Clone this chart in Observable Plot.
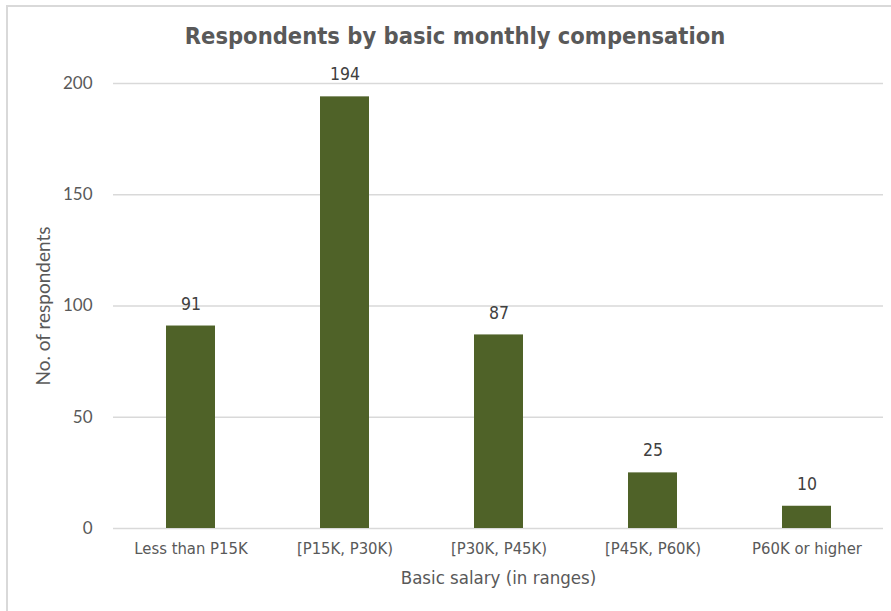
<!DOCTYPE html>
<html>
<head>
<meta charset="utf-8">
<script src="https://cdn.jsdelivr.net/npm/d3@7"></script>
<script src="https://cdn.jsdelivr.net/npm/@observablehq/plot@0.6"></script>
<style>
  html, body { margin: 0; padding: 0; background: #fff; }
  #wrap { position: relative; width: 891px; height: 611px; overflow: hidden; }
  #frame { position: absolute; left: 6px; top: 5px; width: 900px; height: 700px;
           border: 2px solid #d9d9d9; box-sizing: border-box; }
  #title { position: absolute; left: 0; top: 22px; width: 910px; text-align: center;
           font-family: "DejaVu Sans Condensed", "DejaVu Sans", sans-serif; font-weight: bold;
           font-size: 23.5px; color: #595959; line-height: 28px; }
  #chart { position: absolute; left: 0; top: 60px; }
</style>
</head>
<body>
<div id="wrap">
  <div id="frame"></div>
  <div id="title">Respondents by basic monthly compensation</div>
  <div id="chart"></div>
</div>
<script>
// Salary brackets and number of respondents in each
const categories = ["Less than P15K", "[P15K, P30K)", "[P30K, P45K)", "[P45K, P60K)", "P60K or higher"];
const respondents = [91, 194, 87, 25, 10];
const yTicks = [0, 50, 100, 150, 200];

const data = categories.map((c, i) => ({category: c, count: respondents[i]}));

const condensed = "'DejaVu Sans Condensed', 'DejaVu Sans', sans-serif";
const plain = "Lato, 'Open Sans', sans-serif";

const chart = Plot.plot({
  width: 891,
  height: 551,
  marginTop: 23,
  marginBottom: 83,
  marginLeft: 113,
  marginRight: 8,
  style: {background: "transparent", color: "#595959"},
  x: {domain: categories, paddingInner: 0.682, paddingOuter: 0.341, label: null},
  y: {domain: [0, 200], label: null},
  marks: [
    Plot.ruleY(yTicks, {stroke: "#d9d9d9", strokeWidth: 1.5}),
    Plot.barY(data, {x: "category", y: "count", fill: "#4f6228"}),
    Plot.text(data, {x: "category", y: "count", text: d => String(d.count), dy: -22,
      fontSize: 17.5, fontFamily: condensed, fill: "#404040"}),
    Plot.axisY({ticks: yTicks, tickSize: 0, tickPadding: 21, fontSize: 17, fontFamily: plain, label: null}),
    Plot.text(["No. of respondents"], {frameAnchor: "left", textAnchor: "middle", rotate: -90, dx: -70,
      fontSize: 19, fontFamily: plain, fill: "#595959"}),
    Plot.axisX({tickSize: 0, tickPadding: 14, fontSize: 16.5, fontFamily: condensed, label: null}),
    Plot.text(["Basic salary (in ranges)"], {frameAnchor: "bottom", dy: 55,
      fontSize: 18.5, fontFamily: condensed, fill: "#595959"})
  ]
});
document.getElementById("chart").append(chart);
</script>
</body>
</html>
